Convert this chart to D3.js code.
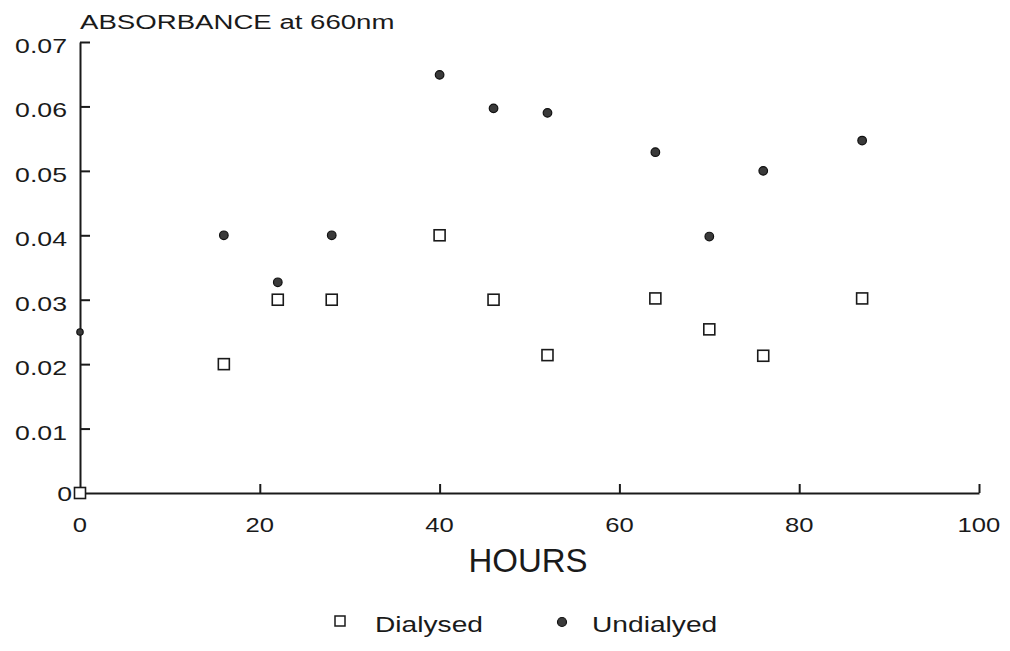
<!DOCTYPE html>
<html>
<head>
<meta charset="utf-8">
<script src="https://cdn.jsdelivr.net/npm/d3@7"></script>
<style>
  html, body { margin: 0; padding: 0; background: #fff; }
  svg { display: block; }
  text { font-family: "Liberation Sans", Arial, sans-serif; fill: #1a1a1a; }
</style>
</head>
<body>
<svg id="chart" width="1010" height="651"></svg>
<script>
const hours = [0, 16, 22, 28, 40, 46, 52, 64, 70, 76, 87];
const dialysed = [0, 0.02, 0.03, 0.03, 0.04, 0.03, 0.0214, 0.0302, 0.0254, 0.0213, 0.0302];
const undialysed = [0.025, 0.04, 0.0327, 0.04, 0.0649, 0.0597, 0.059, 0.0529, 0.0398, 0.05, 0.0547];
const xTicks = [0, 20, 40, 60, 80, 100];
const yTicks = [0, 0.01, 0.02, 0.03, 0.04, 0.05, 0.06, 0.07];
const yTickLabels = ["0", "0.01", "0.02", "0.03", "0.04", "0.05", "0.06", "0.07"];
const seriesNames = ["Dialysed", "Undialyed"];
const yTitle = "ABSORBANCE at 660nm";
const xTitle = "HOURS";

const svg = d3.select("#chart");
const x = d3.scaleLinear().domain([0, 100]).range([80, 979]);
const y = d3.scaleLinear().domain([0, 0.07]).range([493, 42]);

const axisColor = "#1a1a1a";

function stretch(sel, f) {
  sel.each(function () {
    const w = this.getComputedTextLength();
    d3.select(this).attr("textLength", w * f).attr("lengthAdjust", "spacingAndGlyphs");
  });
}

// Y axis
const yAxis = d3.axisLeft(y).tickValues(yTicks.filter(d => d > 0)).tickSizeInner(-10).tickSizeOuter(0).tickFormat(() => "");
const gy = svg.append("g").attr("transform", `translate(${x(0)},0)`).call(yAxis);
gy.select(".domain").attr("stroke", axisColor).attr("stroke-width", 2);
gy.selectAll(".tick line").attr("stroke", axisColor).attr("stroke-width", 2);

// X axis
const xAxis = d3.axisBottom(x).tickValues(xTicks.filter(d => d > 0)).tickSizeInner(-9).tickSizeOuter(0).tickFormat(() => "");
const gx = svg.append("g").attr("transform", `translate(0,${y(0)})`).call(xAxis);
gx.select(".domain").attr("stroke", axisColor).attr("stroke-width", 2);
gx.selectAll(".tick line").attr("stroke", axisColor).attr("stroke-width", 2);

// Y tick labels
const yl = svg.append("g").selectAll("text").data(yTicks).join("text")
  .attr("x", (d, i) => i === 0 ? 72 : 67)
  .attr("y", (d, i) => y(d) + (i === 0 ? 8 : 11))
  .attr("text-anchor", "end")
  .attr("font-size", 21)
  .text((d, i) => yTickLabels[i]);
stretch(yl, 1.27);

// X tick labels
const xl = svg.append("g").selectAll("text").data(xTicks).join("text")
  .attr("x", d => x(d))
  .attr("y", 532)
  .attr("text-anchor", "middle")
  .attr("font-size", 21)
  .text(d => d);
stretch(xl, 1.22);

// Titles
const yt = svg.append("text").attr("x", 80).attr("y", 29)
  .attr("font-size", 20).text(yTitle);
stretch(yt, 1.38);
svg.append("text").attr("x", 528).attr("y", 572)
  .attr("text-anchor", "middle").attr("font-size", 33).text(xTitle);

// Points
const sq = 11;
svg.append("g").selectAll("rect").data(hours.map((h, i) => [h, dialysed[i]])).join("rect")
  .attr("x", d => x(d[0]) - sq / 2)
  .attr("y", d => y(d[1]) - sq / 2)
  .attr("width", sq).attr("height", sq)
  .attr("fill", "#fff").attr("stroke", "#1a1a1a").attr("stroke-width", 1.6);

svg.append("g").selectAll("circle").data(hours.map((h, i) => [h, undialysed[i]])).join("circle")
  .attr("cx", d => x(d[0]))
  .attr("cy", d => y(d[1]))
  .attr("r", (d, i) => i === 0 ? 3.2 : 4.3)
  .attr("fill", "#3a3a3a").attr("stroke", "#111").attr("stroke-width", 1.2);

// Legend
const lg = svg.append("g");
lg.append("rect").attr("x", 335).attr("y", 616).attr("width", 10).attr("height", 10)
  .attr("fill", "#fff").attr("stroke", "#1a1a1a").attr("stroke-width", 1.5);
const l1 = lg.append("text").attr("x", 375).attr("y", 632).attr("font-size", 22).text(seriesNames[0]);
lg.append("circle").attr("cx", 562).attr("cy", 622).attr("r", 4.5)
  .attr("fill", "#3a3a3a").attr("stroke", "#111").attr("stroke-width", 1.2);
const l2 = lg.append("text").attr("x", 592).attr("y", 632).attr("font-size", 22).text(seriesNames[1]);
stretch(l1, 1.28);
stretch(l2, 1.28);
</script>
</body>
</html>
